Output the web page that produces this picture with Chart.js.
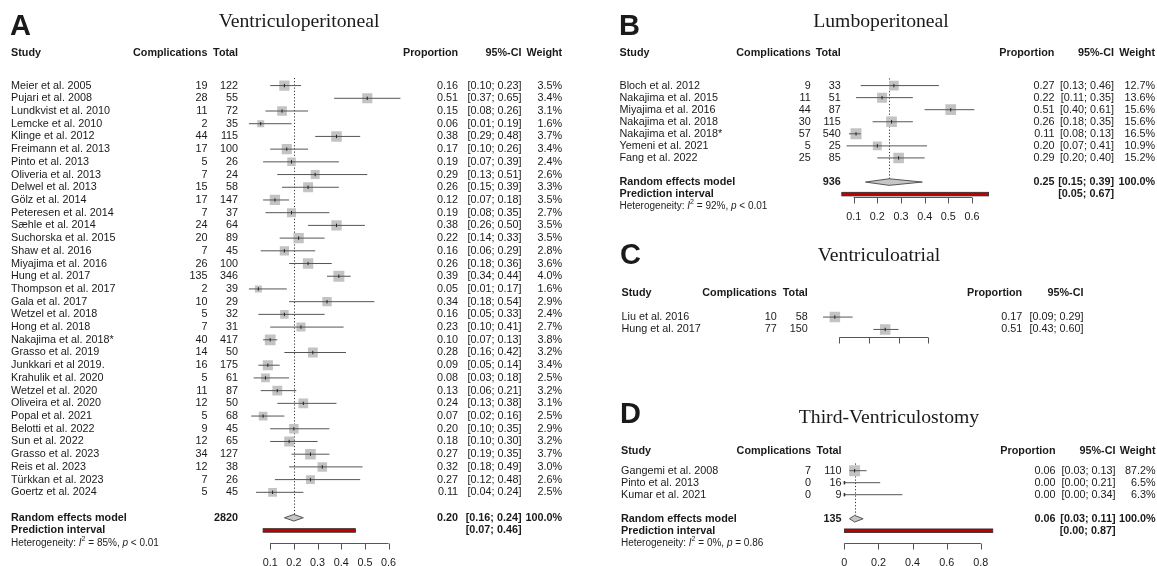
<!DOCTYPE html>
<html>
<head>
<meta charset="utf-8">
<script src="https://cdn.jsdelivr.net/npm/chart.js@4.4.1/dist/chart.umd.min.js"></script>
<style>
  html, body { margin: 0; padding: 0; background: #fff; }
  #page { position: relative; width: 1157px; height: 566px; overflow: hidden; background: #fff; }
  #page canvas { position: absolute; left: 0; top: 0; }
</style>
</head>
<body>
<div id="page">
  <canvas id="vp" width="1157" height="566"></canvas>
  <canvas id="lp" width="1157" height="566"></canvas>
  <canvas id="va" width="1157" height="566"></canvas>
  <canvas id="tv" width="1157" height="566"></canvas>
</div>
<script>
// ---------- A: Ventriculoperitoneal ----------
const vpStudies = [
  'Meier et al. 2005', 'Pujari et al. 2008', 'Lundkvist et al. 2010', 'Lemcke et al. 2010',
  'Klinge et al. 2012', 'Freimann et al. 2013', 'Pinto et al. 2013', 'Oliveria et al. 2013',
  'Delwel et al. 2013', 'Gölz et al. 2014', 'Peteresen et al. 2014', 'Sæhle et al. 2014',
  'Suchorska et al. 2015', 'Shaw et al. 2016', 'Miyajima et al. 2016', 'Hung et al. 2017',
  'Thompson et al. 2017', 'Gala et al. 2017', 'Wetzel et al. 2018', 'Hong et al. 2018',
  'Nakajima et al. 2018*', 'Grasso et al. 2019', 'Junkkari et al 2019.', 'Krahulik et al. 2020',
  'Wetzel et al. 2020', 'Oliveira et al. 2020', 'Popal et al. 2021', 'Belotti et al. 2022',
  'Sun et al. 2022', 'Grasso et al. 2023', 'Reis et al. 2023', 'Türkkan et al. 2023',
  'Goertz et al. 2024'
];
const vpEvents = [19, 28, 11, 2, 44, 17, 5, 7, 15, 17, 7, 24, 20, 7, 26, 135, 2, 10, 5, 7, 40, 14, 16, 5, 11, 12, 5, 9, 12, 34, 12, 7, 5];
const vpTotals = [122, 55, 72, 35, 115, 100, 26, 24, 58, 147, 37, 64, 89, 45, 100, 346, 39, 29, 32, 31, 417, 50, 175, 61, 87, 50, 68, 45, 65, 127, 38, 26, 45];
const vpProportion = [0.16, 0.51, 0.15, 0.06, 0.38, 0.17, 0.19, 0.29, 0.26, 0.12, 0.19, 0.38, 0.22, 0.16, 0.26, 0.39, 0.05, 0.34, 0.16, 0.23, 0.10, 0.28, 0.09, 0.08, 0.13, 0.24, 0.07, 0.20, 0.18, 0.27, 0.32, 0.27, 0.11];
const vpLower = [0.10, 0.37, 0.08, 0.01, 0.29, 0.10, 0.07, 0.13, 0.15, 0.07, 0.08, 0.26, 0.14, 0.06, 0.18, 0.34, 0.01, 0.18, 0.05, 0.10, 0.07, 0.16, 0.05, 0.03, 0.06, 0.13, 0.02, 0.10, 0.10, 0.19, 0.18, 0.12, 0.04];
const vpUpper = [0.23, 0.65, 0.26, 0.19, 0.48, 0.26, 0.39, 0.51, 0.39, 0.18, 0.35, 0.50, 0.33, 0.29, 0.36, 0.44, 0.17, 0.54, 0.33, 0.41, 0.13, 0.42, 0.14, 0.18, 0.21, 0.38, 0.16, 0.35, 0.30, 0.35, 0.49, 0.48, 0.24];
const vpWeight = [3.5, 3.4, 3.1, 1.6, 3.7, 3.4, 2.4, 2.6, 3.3, 3.5, 2.7, 3.5, 3.5, 2.8, 3.6, 4.0, 1.6, 2.9, 2.4, 2.7, 3.8, 3.2, 3.4, 2.5, 3.2, 3.1, 2.5, 2.9, 3.2, 3.7, 3.0, 2.6, 2.5];
const vpPooled = [0.20, 0.16, 0.24];
const vpPrediction = [0.07, 0.46];
const vpPooledN = 2820;
const vpI2 = '85%';
const vpP = '< 0.01';
const vpTicks = [0.1, 0.2, 0.3, 0.4, 0.5, 0.6];

// ---------- B: Lumboperitoneal ----------
const lpStudies = ['Bloch et al. 2012', 'Nakajima et al. 2015', 'Miyajima et al. 2016', 'Nakajima et al. 2018', 'Nakajima et al. 2018*', 'Yemeni et al. 2021', 'Fang et al. 2022'];
const lpEvents = [9, 11, 44, 30, 57, 5, 25];
const lpTotals = [33, 51, 87, 115, 540, 25, 85];
const lpProportion = [0.27, 0.22, 0.51, 0.26, 0.11, 0.20, 0.29];
const lpLower = [0.13, 0.11, 0.40, 0.18, 0.08, 0.07, 0.20];
const lpUpper = [0.46, 0.35, 0.61, 0.35, 0.13, 0.41, 0.40];
const lpWeight = [12.7, 13.6, 15.6, 15.6, 16.5, 10.9, 15.2];
const lpPooled = [0.25, 0.15, 0.39];
const lpPrediction = [0.05, 0.67];
const lpPooledN = 936;
const lpI2 = '92%';
const lpP = '< 0.01';
const lpTicks = [0.1, 0.2, 0.3, 0.4, 0.5, 0.6];

// ---------- C: Ventriculoatrial ----------
const vaStudies = ['Liu et al. 2016', 'Hung et al. 2017'];
const vaEvents = [10, 77];
const vaTotals = [58, 150];
const vaProportion = [0.17, 0.51];
const vaLower = [0.09, 0.43];
const vaUpper = [0.29, 0.60];
const vaTicks = [0.2, 0.4, 0.6, 0.8];

// ---------- D: Third-Ventriculostomy ----------
const tvStudies = ['Gangemi et al. 2008', 'Pinto et al. 2013', 'Kumar et al. 2021'];
const tvEvents = [7, 0, 0];
const tvTotals = [110, 16, 9];
const tvProportion = [0.06, 0.00, 0.00];
const tvLower = [0.03, 0.00, 0.00];
const tvUpper = [0.13, 0.21, 0.34];
const tvWeight = [87.2, 6.5, 6.3];
const tvPooled = [0.06, 0.03, 0.11];
const tvPrediction = [0.00, 0.87];
const tvPooledN = 135;
const tvI2 = '0%';
const tvP = '= 0.86';
const tvTicks = [0, 0.2, 0.4, 0.6, 0.8];

// ---------- drawing ----------
const W = 1157, H = 566;
const INK = '#1a1a1a';
const SANS = '"Liberation Sans", Arial, Helvetica, sans-serif';
const SERIF = '"Liberation Serif", "Times New Roman", serif';
const F_ROW = '10.8px ' + SANS;
const F_BOLD = 'bold 10.8px ' + SANS;

const fmt2 = v => v.toFixed(2);
const ciText = (lo, hi) => '[' + fmt2(lo) + '; ' + fmt2(hi) + ']';

function buildDatasets(d, p) {
  const squares = [], sizes = [], segs = [], marks = [];
  const wmax = d.weight ? Math.max(...d.weight) : 1;
  d.studies.forEach((s, i) => {
    squares.push({ x: d.prop[i], y: i });
    const side = d.weight ? p.maxSide * Math.sqrt(d.weight[i] / wmax) : p.maxSide;
    sizes.push(side / Math.SQRT2);
    segs.push({ x: d.lower[i], y: i }, { x: d.upper[i], y: i }, { x: null, y: null });
    marks.push({ x: d.prop[i], y: i });
  });
  return [
    { label: 'weight', data: squares, pointStyle: 'rect', pointRadius: sizes,
      pointBackgroundColor: '#c3c3c3', pointBorderWidth: 0, order: 3 },
    { label: 'ci', data: segs, showLine: true, borderColor: '#555', borderWidth: 1,
      pointRadius: 0, spanGaps: false, order: 2 },
    { label: 'estimate', data: marks, pointStyle: 'line', pointRotation: 90, pointRadius: 1.7,
      pointBorderColor: '#222', pointBorderWidth: 1, order: 1 }
  ];
}

function drawHet(ctx, x, y, i2, pv) {
  const parts = [
    ['Heterogeneity: ', '10px ' + SANS, 0],
    ['I', 'italic 10px ' + SANS, 0],
    ['2', '7px ' + SANS, -4],
    [' = ' + i2 + ', ', '10px ' + SANS, 0],
    ['p', 'italic 10px ' + SANS, 0],
    [' ' + pv, '10px ' + SANS, 0]
  ];
  ctx.textAlign = 'left';
  let cx = x;
  parts.forEach(([t, f, dy]) => {
    ctx.font = f;
    ctx.fillText(t, cx, y + dy);
    cx += ctx.measureText(t).width;
  });
}

function makeForestPlugin(d, p) {
  const n = d.studies.length;
  return {
    id: 'forest' + p.letter,
    beforeDatasetsDraw(chart) {
      if (!d.pooled) return;
      const { ctx, scales: { x, y } } = chart;
      const px = Math.round(x.getPixelForValue(d.pooled[0])) + 0.5;
      ctx.save();
      ctx.strokeStyle = '#333';
      ctx.lineWidth = 1;
      ctx.setLineDash([1.2, 2]);
      ctx.beginPath();
      ctx.moveTo(px, y.getPixelForValue(-0.6));
      ctx.lineTo(px, y.getPixelForValue(n + 1) - 3.3);
      ctx.stroke();
      ctx.restore();
    },
    afterDatasetsDraw(chart) {
      const { ctx, scales: { x, y } } = chart;
      const text = (t, tx, ty, align) => { ctx.textAlign = align; ctx.fillText(t, tx, ty); };
      ctx.save();
      ctx.fillStyle = INK;

      // panel letter and title
      ctx.textBaseline = 'alphabetic';
      ctx.font = 'bold 29px ' + SANS;
      text(p.letter, p.letterX, p.letterY, 'left');
      ctx.font = '19.7px ' + SERIF;
      text(p.title, p.titleX, p.titleY, 'center');

      // column headers
      ctx.textBaseline = 'middle';
      ctx.font = F_BOLD;
      text('Study', p.studyX, p.headerY, 'left');
      text('Complications', p.compX, p.headerY, 'right');
      text('Total', p.totalX, p.headerY, 'right');
      text('Proportion', p.propX, p.headerY, 'right');
      text('95%-CI', p.ciX, p.headerY, 'right');
      if (d.weight) text('Weight', p.wX, p.headerY, 'right');

      // study rows
      ctx.font = F_ROW;
      d.studies.forEach((s, i) => {
        const ry = y.getPixelForValue(i);
        text(s, p.studyX, ry, 'left');
        text(String(d.events[i]), p.compX, ry, 'right');
        text(String(d.totals[i]), p.totalX, ry, 'right');
        text(fmt2(d.prop[i]), p.propX, ry, 'right');
        text(ciText(d.lower[i], d.upper[i]), p.ciX, ry, 'right');
        if (d.weight) text(d.weight[i].toFixed(1) + '%', p.wX, ry, 'right');
      });

      if (d.pooled) {
        const yRE = y.getPixelForValue(n + 1);
        const yPI = y.getPixelForValue(n + 2);
        const yHet = y.getPixelForValue(n + 3);
        ctx.font = F_BOLD;
        text('Random effects model', p.studyX, yRE, 'left');
        text(String(d.pooledN), p.totalX, yRE, 'right');
        text(fmt2(d.pooled[0]), p.propX, yRE, 'right');
        text(ciText(d.pooled[1], d.pooled[2]), p.ciX, yRE, 'right');
        text('100.0%', p.wX, yRE, 'right');
        text('Prediction interval', p.studyX, yPI, 'left');
        text(ciText(d.prediction[0], d.prediction[1]), p.ciX, yPI, 'right');
        ctx.fillStyle = '#222';
        drawHet(ctx, p.studyX, yHet, d.i2, d.pval);

        // pooled diamond
        const xl = x.getPixelForValue(d.pooled[1]);
        const xm = x.getPixelForValue(d.pooled[0]);
        const xr = x.getPixelForValue(d.pooled[2]);
        ctx.beginPath();
        ctx.moveTo(xl, yRE);
        ctx.lineTo(xm, yRE - 3.3);
        ctx.lineTo(xr, yRE);
        ctx.lineTo(xm, yRE + 3.3);
        ctx.closePath();
        ctx.fillStyle = '#c6c6c6';
        ctx.fill();
        ctx.strokeStyle = '#555';
        ctx.lineWidth = 1;
        ctx.stroke();

        // prediction interval bar
        const pl = x.getPixelForValue(d.prediction[0]);
        const pr = x.getPixelForValue(d.prediction[1]);
        ctx.fillStyle = '#c00000';
        ctx.fillRect(pl, yPI - 1.8, pr - pl, 3.6);
        ctx.strokeStyle = '#2a2a2a';
        ctx.lineWidth = 0.8;
        ctx.strokeRect(pl, yPI - 1.8, pr - pl, 3.6);
      }

      // bottom axis with ticks hanging down
      const ay = Math.round(p.axisY) + 0.5;
      const x1 = x.getPixelForValue(d.ticks[0]);
      const x2 = x.getPixelForValue(d.ticks[d.ticks.length - 1]);
      ctx.strokeStyle = '#555';
      ctx.lineWidth = 1;
      ctx.beginPath();
      ctx.moveTo(x1, ay);
      ctx.lineTo(x2, ay);
      d.ticks.forEach(t => {
        const tx = Math.round(x.getPixelForValue(t)) + 0.5;
        ctx.moveTo(tx, ay);
        ctx.lineTo(tx, ay + 6);
      });
      ctx.stroke();
      if (p.tickLabels) {
        ctx.fillStyle = INK;
        ctx.font = '10.8px ' + SANS;
        ctx.textBaseline = 'middle';
        d.ticks.forEach(t => text(String(t), x.getPixelForValue(t), p.tickLabelY, 'center'));
      }
      ctx.restore();
    }
  };
}

function drawPanel(canvasId, d, p) {
  new Chart(document.getElementById(canvasId), {
    type: 'scatter',
    data: { datasets: buildDatasets(d, p) },
    options: {
      responsive: false,
      animation: false,
      devicePixelRatio: 1,
      events: [],
      layout: { padding: 0 },
      plugins: { legend: { display: false }, tooltip: { enabled: false }, title: { display: false } },
      scales: {
        x: { type: 'linear', display: false, bounds: 'data', min: -p.xZero / p.ppu, max: (W - p.xZero) / p.ppu },
        y: { type: 'linear', display: false, bounds: 'data', reverse: true, min: -p.rowY0 / p.rowH, max: (H - p.rowY0) / p.rowH }
      }
    },
    plugins: [makeForestPlugin(d, p)]
  });
}

drawPanel('vp', {
  studies: vpStudies, events: vpEvents, totals: vpTotals, prop: vpProportion,
  lower: vpLower, upper: vpUpper, weight: vpWeight, pooled: vpPooled,
  prediction: vpPrediction, pooledN: vpPooledN, i2: vpI2, pval: vpP, ticks: vpTicks
}, {
  letter: 'A', title: 'Ventriculoperitoneal', letterX: 10, letterY: 35, titleX: 299, titleY: 27,
  headerY: 53.5, rowY0: 80, rowH: 13.07, xZero: 242, ppu: 240, maxSide: 11,
  studyX: 11, compX: 207.4, totalX: 238.1, propX: 458.1, ciX: 521.5, wX: 562.2,
  axisY: 542.7, tickLabelY: 563.5, tickLabels: true
});

drawPanel('lp', {
  studies: lpStudies, events: lpEvents, totals: lpTotals, prop: lpProportion,
  lower: lpLower, upper: lpUpper, weight: lpWeight, pooled: lpPooled,
  prediction: lpPrediction, pooledN: lpPooledN, i2: lpI2, pval: lpP, ticks: lpTicks
}, {
  letter: 'B', title: 'Lumboperitoneal', letterX: 619, letterY: 35, titleX: 881, titleY: 27,
  headerY: 53.3, rowY0: 80, rowH: 12.4, xZero: 833.4, ppu: 240, maxSide: 11,
  studyX: 619.5, compX: 810.7, totalX: 840.7, propX: 1054.4, ciX: 1114, wX: 1155,
  axisY: 196.7, tickLabelY: 216.7, tickLabels: true
});

drawPanel('va', {
  studies: vaStudies, events: vaEvents, totals: vaTotals, prop: vaProportion,
  lower: vaLower, upper: vaUpper, ticks: vaTicks
}, {
  letter: 'C', title: 'Ventriculoatrial', letterX: 620, letterY: 263.5, titleX: 879, titleY: 261,
  headerY: 293, rowY0: 318, rowH: 12.7, xZero: 812.7, ppu: 150, maxSide: 10.5,
  studyX: 621.5, compX: 776.7, totalX: 807.8, propX: 1022.2, ciX: 1083.5,
  axisY: 336.7, tickLabels: false
});

drawPanel('tv', {
  studies: tvStudies, events: tvEvents, totals: tvTotals, prop: tvProportion,
  lower: tvLower, upper: tvUpper, weight: tvWeight, pooled: tvPooled,
  prediction: tvPrediction, pooledN: tvPooledN, i2: tvI2, pval: tvP, ticks: tvTicks
}, {
  letter: 'D', title: 'Third-Ventriculostomy', letterX: 620, letterY: 423.3, titleX: 889, titleY: 423,
  headerY: 451, rowY0: 476, rowH: 12.35, xZero: 848, ppu: 172.9, maxSide: 11,
  studyX: 621, compX: 811, totalX: 841.5, propX: 1055.5, ciX: 1115.5, wX: 1155.5,
  axisY: 543.3, tickLabelY: 563.3, tickLabels: true
});
</script>
</body>
</html>
